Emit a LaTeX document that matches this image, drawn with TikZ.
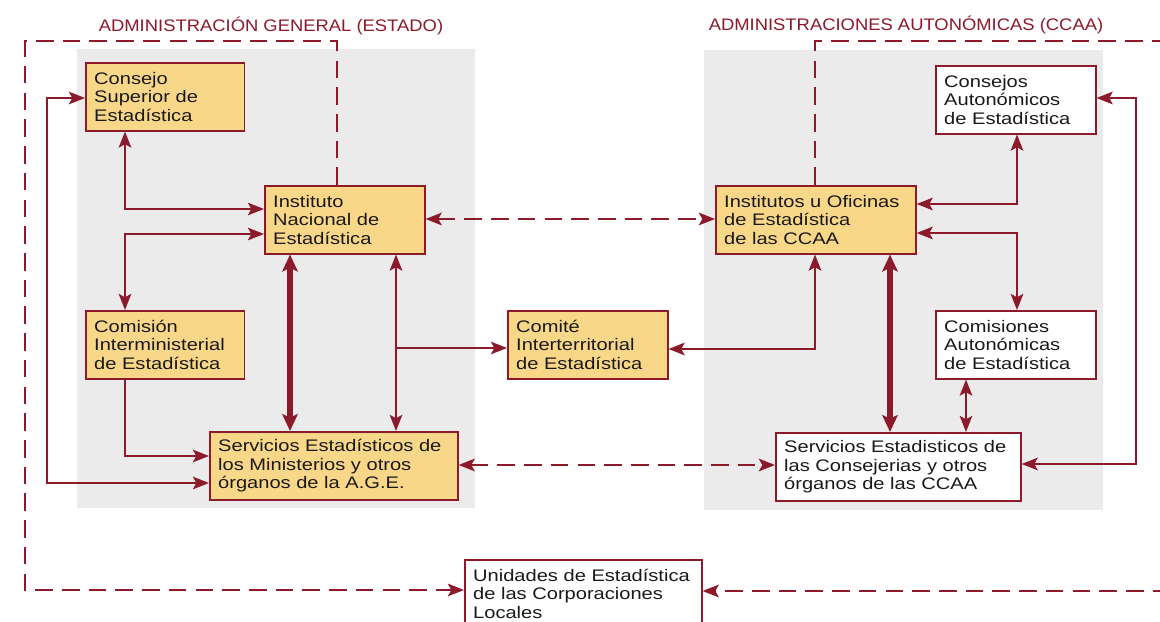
\documentclass[tikz,border=0pt]{standalone}
\usepackage{fontspec}
\setmainfont[FakeStretch=1.2]{Liberation Sans}
\newfontfamily\titlefont[FakeStretch=1.1]{Liberation Sans}
\usetikzlibrary{arrows.meta}
\definecolor{granate}{HTML}{8C1A2B}
\definecolor{naranja}{HTML}{F9D788}
\definecolor{fondo}{HTML}{EBEBEB}

\begin{document}
\begin{tikzpicture}[x=0.025cm,y=-0.025cm,
   caja/.style={draw=granate,line width=1.1pt,fill=naranja,anchor=north west,inner xsep=6pt,inner ysep=0pt,
      minimum height=1.7cm,align=left,font=\fontsize{11.9}{13}\selectfont,text=black!90},
   blanca/.style={caja,fill=white},
   enlace/.style={draw=granate,line width=1.2pt,>={Stealth[length=11.5pt,width=9pt,inset=2.5pt]}},
   grueso/.style={enlace,line width=3.8pt,>={Stealth[length=12pt,width=11pt,inset=2.5pt]}},
   discont/.style={enlace,line width=1.3pt,dash pattern=on 12.5pt off 6.5pt},
   titulo/.style={text=granate,font=\titlefont\fontsize{11.9}{13}\selectfont}]
   \useasboundingbox (0,0) rectangle (1160,622);
   \clip (0,0) rectangle (1160,622);
   \fill[white] (0,0) rectangle (1160,622);
   \fill[fondo] (77,49) rectangle (475,508);
   \fill[fondo] (704,50) rectangle (1103,510);

   \node[titulo] (tage) at (271,26) {ADMINISTRACIÓN GENERAL (ESTADO)};
   \node[titulo] (tcca) at (906,25) {ADMINISTRACIONES AUTONÓMICAS (CCAA)};

   \node[caja,text width=101pt] (csup) at (85,62) {Consejo\\Superior de\\Estadística};
   \node[caja,text width=101.8pt] (ine) at (264,185) {Instituto\\Nacional de\\Estadística};
   \node[caja,text width=101pt] (comi) at (85,310) {Comisión\\Interministerial\\de Estadística};
   \node[caja,text width=164.4pt] (sage) at (209,431) {Servicios Estadísticos de\\los Ministerios y otros\\órganos de la A.G.E.};
   \node[caja,text width=101.8pt] (comite) at (507,310) {Comité\\Interterritorial\\de Estadística};
   \node[caja,text width=130.3pt] (ioe) at (715,185) {Institutos u Oficinas\\de Estadística\\de las CCAA};
   \node[blanca,text width=101.8pt] (cae) at (935,65) {Consejos\\Autonómicos\\de Estadística};
   \node[blanca,text width=101.8pt] (cmae) at (935,310) {Comisiones\\Autonómicas\\de Estadística};
   \node[blanca,text width=162.3pt] (scc) at (775,432) {Servicios Estadisticos de\\las Consejerias y otros\\órganos de las CCAA};
   \node[blanca,text width=156.6pt] (unid) at (464,559) {Unidades de Estadística\\de las Corporaciones\\Locales};

   \coordinate (a1) at (125,209);
   \coordinate (a2) at (125,234);
   \coordinate (a3) at (125,456);
   \coordinate (a4) at (47,98);
   \coordinate (a5) at (47,483);
   \coordinate (a6) at (290,0);
   \coordinate (a7) at (396,348);
   \coordinate (a8) at (0,219);
   \coordinate (b1) at (815,349);
   \coordinate (b2) at (890,0);
   \coordinate (b3) at (1017,204);
   \coordinate (b4) at (1017,233);
   \coordinate (b5) at (966,0);
   \coordinate (b6) at (1136,98);
   \coordinate (b7) at (1136,464);
   \coordinate (b8) at (0,465);
   \coordinate (d1) at (337,41);
   \coordinate (d2) at (25,41);
   \coordinate (d3) at (25,590);
   \coordinate (d4) at (815,41);
   \coordinate (d5) at (1180,41);
   \coordinate (d6) at (1180,591);

   \draw[enlace,<->] (csup.south -| a1) |- (ine.west |- a1);
   \draw[enlace,<->] (ine.west |- a2) -| (comi.north -| a2);
   \draw[enlace,->] (comi.south -| a3) |- (sage.west |- a3);
   \draw[enlace,<->] (csup.west |- a4) -- (a4) -- (a5) -- (sage.west |- a5);
   \draw[grueso,<->] (ine.south -| a6) -- (sage.north -| a6);
   \draw[enlace,<->] (ine.south -| a7) -- (sage.north -| a7);
   \draw[enlace,->] (a7) -- (comite.west |- a7);
   \draw[discont,<->] (ine.east |- a8) -- (ioe.west |- a8);
   \draw[enlace,<->] (ioe.south -| b1) |- (comite.east |- b1);
   \draw[grueso,<->] (ioe.south -| b2) -- (scc.north -| b2);
   \draw[enlace,<->] (ioe.east |- b3) -| (cae.south -| b3);
   \draw[enlace,<->] (ioe.east |- b4) -| (cmae.north -| b4);
   \draw[enlace,<->] (cmae.south -| b5) -- (scc.north -| b5);
   \draw[enlace,<->] (cae.east |- b6) -- (b6) -- (b7) -- (scc.east |- b7);
   \draw[discont,<->] (sage.east |- b8) -- (scc.west |- b8);
   \draw[discont,->] (ine.north -| d1) -- (d1) -- (d2) -- (d3) -- (unid.west |- d3);
   \draw[discont,->] (ioe.north -| d4) -- (d4) -- (d5) -- (d6) -- (unid.east |- d6);
\end{tikzpicture}
\end{document}
